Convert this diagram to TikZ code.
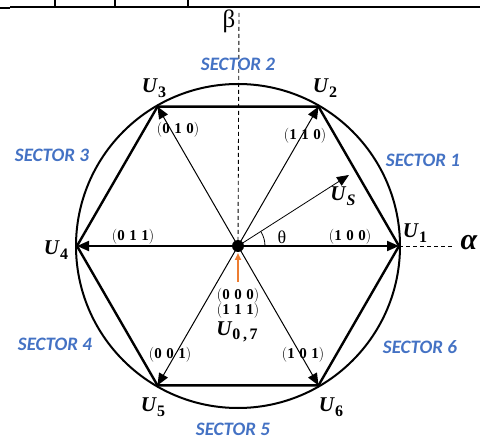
\documentclass[tikz,border=0pt]{standalone}
\usepackage{fontspec}
\usepackage{amsmath}
\usetikzlibrary{arrows.meta}
\newfontfamily\secfont{Carlito}
\newfontfamily\grkfont{Liberation Serif}
\definecolor{secblue}{HTML}{4472C4}
\definecolor{vorange}{HTML}{ED7D31}
\newcommand{\cd}[3]{(\textbf{\grkfont #1\hspace{0.3em}#2\hspace{0.3em}#3})}
\newcommand{\ulb}[1]{{\grkfont\fontsize{21}{23}\selectfont\bfseries\itshape U\kern1pt\raisebox{-4.5pt}{\fontsize{16}{18}\selectfont #1}}}
\begin{document}
\begin{tikzpicture}[x=1pt,y=-1pt,
  sector/.style={font=\secfont\fontsize{19}{21}\selectfont\bfseries\itshape, text=secblue},
  ulab/.style={inner sep=1pt},
  code/.style={font=\fontsize{15}{16}\selectfont, inner sep=0pt},
  hexedge/.style={line width=2.4pt, line join=miter},
  thinvec/.style={line width=1pt, -{Triangle[length=12pt,width=10pt]}},
  thickvec/.style={line width=2pt, -{Triangle[length=12pt,width=10pt]}},
  axisline/.style={line width=0.9pt, dash pattern=on 4pt off 3pt}]
\useasboundingbox (0,0) rectangle (480,441);
% table remnants
\draw[line width=2pt] (10,7) -- (480,7);
\draw[line width=2pt] (0,8) -- (10,8);
\draw[line width=1.5pt] (55,0) -- (55,7) (115,0) -- (115,7) (188,0) -- (188,7);
% points
\coordinate (C) at (238,246);
\coordinate (U1) at (399,246);
\coordinate (U2) at (318.5,106.6);
\coordinate (U3) at (157.5,106.6);
\coordinate (U4) at (77,246);
\coordinate (U5) at (157.5,385.4);
\coordinate (U6) at (318.5,385.4);
\coordinate (btop) at (239,13);
\coordinate (aend) at (452,246);
\coordinate (Us) at (349,175);
\coordinate (ostart) at (238,282);
% axes
\draw[axisline] (btop) -- (C);
\draw[axisline] (U1) -- (aend);
% circle & hexagon
\draw[line width=2pt] (C) circle[radius=162];
\draw[hexedge] (U1) -- (U2) -- (U3) -- (U4) -- (U5) -- (U6) -- cycle;
% vectors
\draw[thickvec] (C) -- (U1);
\draw[thickvec] (C) -- (U4);
\draw[thinvec] (C) -- (U2);
\draw[thinvec] (C) -- (U3);
\draw[thinvec] (C) -- (U5);
\draw[thinvec] (C) -- (U6);
\draw[line width=0.8pt, -{Triangle[length=12pt,width=10pt]}] (C) -- (Us);
\draw[line width=0.8pt] (265,246) arc[start angle=0, end angle=-32, radius=27];
\draw[vorange, line width=2pt, -{Triangle[length=7pt,width=6pt]}] (ostart) -- (238,253);
\fill (C) circle[radius=6];
% labels
\node[font=\grkfont\fontsize{25}{27}\selectfont] (beta) at (229,21) {β};
\node[font=\grkfont\fontsize{30}{32}\selectfont\bfseries\itshape] (alpha) at (469,243) {α};
\node[font=\grkfont\fontsize{18}{20}\selectfont] (theta) at (282,237) {θ};
\node[ulab] (lU1) at (415,233) {\ulb{\upshape 1}};
\node[ulab] (lU2) at (325,88) {\ulb{\upshape 2}};
\node[ulab] (lU3) at (154,88) {\ulb{\upshape 3}};
\node[ulab] (lU4) at (56,250) {\ulb{\upshape 4}};
\node[ulab] (lU5) at (153,407) {\ulb{\upshape 5}};
\node[ulab] (lU6) at (331,407) {\ulb{\upshape 6}};
\node[ulab] (lUs) at (343,196) {\ulb{S}};
\node[ulab] (lU07) at (237,332) {\ulb{\upshape 0\,,\,7}};
\node[code] (c010) at (178,130) {\cd010};
\node[code] (c110) at (305,136) {\cd110};
\node[code] (c011) at (133,237) {\cd011};
\node[code] (c100) at (350,237) {\cd100};
\node[code] (c000) at (238,296) {\cd000};
\node[code] (c111) at (238,311) {\cd111};
\node[code] (c001) at (170,355) {\cd001};
\node[code] (c101) at (303,355) {\cd101};
\node[sector] (s1) at (423,160) {SECTOR 1};
\node[sector] (s2) at (238,64) {SECTOR 2};
\node[sector] (s3) at (52,155) {SECTOR 3};
\node[sector] (s4) at (55,344) {SECTOR 4};
\node[sector] (s5) at (233,429) {SECTOR 5};
\node[sector] (s6) at (420,347) {SECTOR 6};
\end{tikzpicture}
\end{document}
